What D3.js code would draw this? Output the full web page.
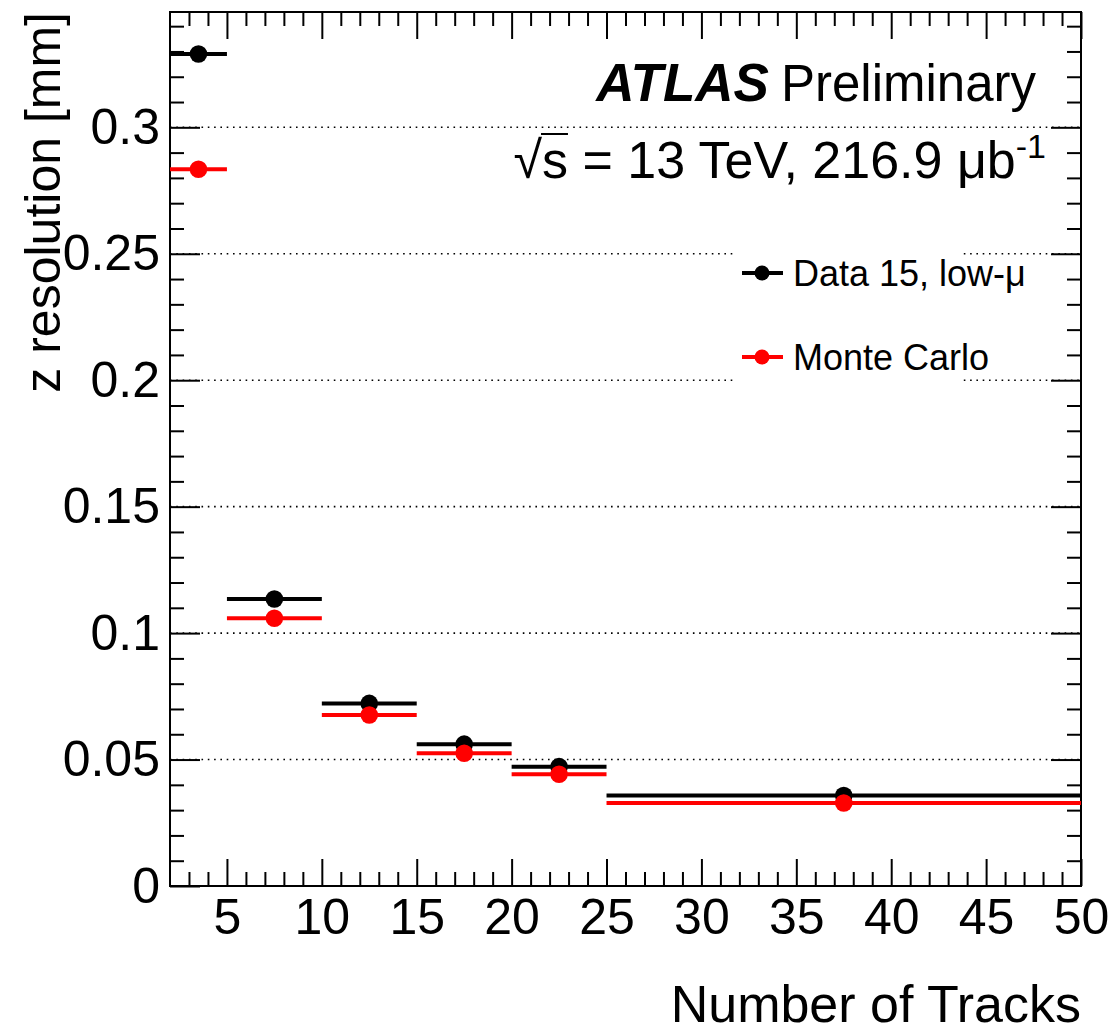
<!DOCTYPE html>
<html>
<head>
<meta charset="utf-8">
<script src="https://cdn.jsdelivr.net/npm/d3@7"></script>
<style>
  body { margin: 0; background: #fff; }
  svg text { font-family: "Liberation Sans", Arial, Helvetica, sans-serif; }
</style>
</head>
<body>
<div id="chart"></div>
<script>
// bins in number of tracks
const binLow = [2, 5, 10, 15, 20, 25];
const binHigh = [5, 10, 15, 20, 25, 50];
const binCenter = [3.5, 7.5, 12.5, 17.5, 22.5, 37.5];
// z resolution [mm]
const dataRes = [0.329, 0.1135, 0.0722, 0.0561, 0.0472, 0.0358];
const mcRes = [0.2834, 0.1059, 0.0676, 0.0525, 0.0442, 0.0328];

const xTicks = [5, 10, 15, 20, 25, 30, 35, 40, 45, 50];
const yTicks = [0, 0.05, 0.1, 0.15, 0.2, 0.25, 0.3];
const yTickLabels = ["0", "0.05", "0.1", "0.15", "0.2", "0.25", "0.3"];

const series = [
    { name: "Data 15, low-\u03bc", color: "#000000", values: dataRes },
    { name: "Monte Carlo", color: "#ff0000", values: mcRes }
];

const margin = { top: 12, right: 32, bottom: 146, left: 170 },
      width = 1113 - margin.left - margin.right,
      height = 1032 - margin.top - margin.bottom;

const svg = d3.select("#chart").append("svg")
    .attr("width", 1113)
    .attr("height", 1032)
    .append("g")
    .attr("transform", `translate(${margin.left},${margin.top})`);

const x = d3.scaleLinear().domain([2, 50]).range([0, width]);
const y = d3.scaleLinear().domain([0, 0.3456]).range([height, 0]);

// dotted horizontal grid
svg.append("g")
    .selectAll("line")
    .data(yTicks.filter(d => d > 0))
    .enter()
    .append("line")
    .attr("x1", 0)
    .attr("x2", width)
    .attr("y1", d => y(d))
    .attr("y2", d => y(d))
    .attr("stroke", "#000")
    .attr("stroke-width", 1.6)
    .attr("stroke-dasharray", "1.6 4.7");

// minor ticks
const xMinor = d3.range(3, 50, 1).filter(v => v % 5 !== 0);
const yMinor = d3.range(1, 35).map(v => v / 100).filter(v => Math.round(v * 100) % 5 !== 0);

function styleAxis(g) {
    g.select(".domain").remove();
    g.selectAll("line").attr("stroke", "#000").attr("stroke-width", 2);
    g.selectAll("text").style("font-size", "50px").attr("fill", "#000");
}

svg.append("g").attr("transform", `translate(0,${height})`)
    .call(d3.axisBottom(x).tickValues(xMinor).tickSize(-14).tickFormat(""))
    .call(styleAxis);
svg.append("g")
    .call(d3.axisTop(x).tickValues(xMinor).tickSize(-14).tickFormat(""))
    .call(styleAxis);
svg.append("g")
    .call(d3.axisLeft(y).tickValues(yMinor).tickSize(-14).tickFormat(""))
    .call(styleAxis);
svg.append("g").attr("transform", `translate(${width},0)`)
    .call(d3.axisRight(y).tickValues(yMinor).tickSize(-14).tickFormat(""))
    .call(styleAxis);

// major ticks + labels
svg.append("g").attr("transform", `translate(0,${height})`)
    .call(d3.axisBottom(x).tickValues(xTicks).tickSize(-27).tickPadding(12).tickFormat(d3.format("d")))
    .call(styleAxis);
svg.append("g")
    .call(d3.axisTop(x).tickValues(xTicks).tickSize(-27).tickFormat(""))
    .call(styleAxis);
svg.append("g")
    .call(d3.axisLeft(y).tickValues(yTicks).tickSize(-30).tickPadding(10)
        .tickFormat((d, i) => yTickLabels[i]))
    .call(styleAxis);
svg.append("g").attr("transform", `translate(${width},0)`)
    .call(d3.axisRight(y).tickValues(yTicks.filter(d => d > 0)).tickSize(-30).tickFormat(""))
    .call(styleAxis);

// frame
svg.append("rect")
    .attr("width", width)
    .attr("height", height)
    .attr("fill", "none")
    .attr("stroke", "#000")
    .attr("stroke-width", 2);

// data points with horizontal bin-width bars
series.forEach(s => {
    const g = svg.append("g");
    g.selectAll("line")
        .data(s.values)
        .enter()
        .append("line")
        .attr("x1", (d, i) => x(binLow[i]))
        .attr("x2", (d, i) => x(binHigh[i]))
        .attr("y1", d => y(d))
        .attr("y2", d => y(d))
        .attr("stroke", s.color)
        .attr("stroke-width", 4);
    g.selectAll("circle")
        .data(s.values)
        .enter()
        .append("circle")
        .attr("cx", (d, i) => x(binCenter[i]))
        .attr("cy", d => y(d))
        .attr("r", 8.8)
        .attr("fill", s.color);
});

// legend
const legend = svg.append("g").attr("transform", "translate(563,216)");
legend.append("rect")
    .attr("width", 230)
    .attr("height", 165)
    .attr("fill", "#fff");
series.forEach((s, i) => {
    const ly = 45 + i * 84;
    legend.append("line")
        .attr("x1", 9).attr("x2", 50)
        .attr("y1", ly).attr("y2", ly)
        .attr("stroke", s.color).attr("stroke-width", 4);
    legend.append("circle")
        .attr("cx", 29).attr("cy", ly).attr("r", 7.5).attr("fill", s.color);
    legend.append("text")
        .attr("x", 60)
        .attr("y", ly + 13)
        .style("font-size", "36px")
        .text(s.name);
});

// ATLAS label
const atlas = svg.append("text")
    .attr("x", 866)
    .attr("y", 89)
    .attr("text-anchor", "end")
    .style("font-size", "51px");
atlas.append("tspan").style("font-weight", "bold").style("font-style", "italic")
    .style("font-size", "53px").text("ATLAS");
atlas.append("tspan").attr("dx", 12).text("Preliminary");

const energy = svg.append("text")
    .attr("x", 876)
    .attr("y", 166)
    .attr("text-anchor", "end")
    .style("font-size", "52px");
energy.append("tspan").text("\u221a");
energy.append("tspan").text("s = 13 TeV, 216.9 \u03bcb");
energy.append("tspan").attr("dy", -20).style("font-size", "34px").text("-1");

// overline of the square root across the "s"
const node = energy.node();
const r0 = node.getExtentOfChar(0);
const r1 = node.getExtentOfChar(1);
svg.append("line")
    .attr("x1", r0.x + r0.width - 1)
    .attr("x2", r1.x + r1.width)
    .attr("y1", r0.y + 3)
    .attr("y2", r0.y + 3)
    .attr("stroke", "#000")
    .attr("stroke-width", 2);

// axis titles
svg.append("text")
    .attr("x", width)
    .attr("y", height + 136)
    .attr("text-anchor", "end")
    .style("font-size", "52px")
    .text("Number of Tracks");

svg.append("text")
    .attr("transform", "rotate(-90)")
    .attr("x", 0)
    .attr("y", -110)
    .attr("text-anchor", "end")
    .style("font-size", "50px")
    .text("z resolution [mm]");
</script>
</body>
</html>
